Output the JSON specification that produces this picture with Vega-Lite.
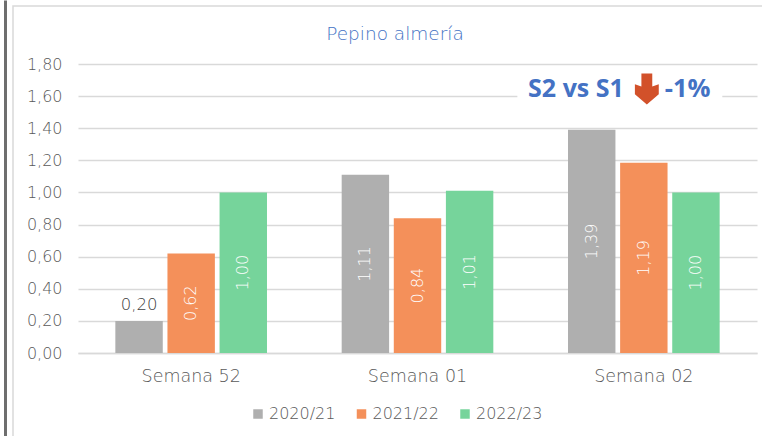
{
"$schema":"https://vega.github.io/schema/vega-lite/v6.json",
"autosize":{"type":"none"},
"padding":{"left":13,"top":6,"right":-1,"bottom":-1},
"width":750,"height":431,
"background":"white",
"view":{"stroke":"#d9d9d9","strokeWidth":1.5,"fill":"white"},
"config":{"font":"DejaVu Sans","text":{"font":"DejaVu Sans"}},
"title":{"text":"Pepino almería","fontSize":18.5,"fontWeight":200,"color":"#4472C4","font":"DejaVu Sans","anchor":"middle","offset":-46,"dx":7},
"datasets":{
"bars":[
{"week":"Semana 52","season":"2020/21","value":0.20,"label":"0,20"},
{"week":"Semana 52","season":"2021/22","value":0.62,"label":"0,62"},
{"week":"Semana 52","season":"2022/23","value":1.00,"label":"1,00"},
{"week":"Semana 01","season":"2020/21","value":1.11,"label":"1,11"},
{"week":"Semana 01","season":"2021/22","value":0.84,"label":"0,84"},
{"week":"Semana 01","season":"2022/23","value":1.01,"label":"1,01"},
{"week":"Semana 02","season":"2020/21","value":1.39,"label":"1,39"},
{"week":"Semana 02","season":"2021/22","value":1.185,"label":"1,19"},
{"week":"Semana 02","season":"2022/23","value":1.00,"label":"1,00"}],
"note":[{"week":"Semana 02","value":1.645,"a":"S2 vs S1","b":"-1%"}],
"edge":[{"e":0},{"e":1}]
},
"resolve":{"scale":{"y":"independent"},"axis":{"y":"independent"}},
"layer":[
{"data":{"name":"edge"},
 "mark":{"type":"point","opacity":0},
 "encoding":{"y":{"field":"e","type":"quantitative","scale":{"domain":[0,1],"range":[431,-6],"nice":false,"zero":false},
   "axis":{"orient":"left","offset":8,"title":null,"ticks":false,"labels":false,"grid":false,"domainColor":"#6e6e6e","domainWidth":3}}}},
{"encoding":{"x":{"field":"week","type":"nominal","sort":["Semana 52","Semana 01","Semana 02"],
   "scale":{"range":[65,744],"paddingInner":0.33,"paddingOuter":0.165},
   "axis":{"title":null,"orient":"bottom","offset":-84,"ticks":false,"labelAngle":0,"labelPadding":14,"labelFontSize":17.5,"labelFontWeight":200,"labelColor":"#595959","labelFont":"DejaVu Sans","domainColor":"#d9d9d9","domainWidth":1.5,"grid":false}}},
 "layer":[
 {"data":{"name":"bars"},"mark":{"type":"bar"},
  "encoding":{
   "xOffset":{"field":"season","type":"nominal","scale":{"paddingInner":0.09}},
   "y":{"field":"value","type":"quantitative","scale":{"domain":[0,1.8],"range":[347,58],"nice":false},
     "axis":{"title":null,"orient":"left","offset":-65,"values":[0,0.2,0.4,0.6,0.8,1,1.2,1.4,1.6,1.8],"grid":false,"domain":false,"tickSize":-679,"tickColor":"#d9d9d9","tickWidth":1.5,"labelPadding":695,"labelFontSize":16,"labelFontWeight":200,"labelColor":"#595959","labelFont":"DejaVu Sans","labelExpr":"replace(format(datum.value,'.2f'),'.',',')"}},
   "color":{"field":"season","type":"nominal","scale":{"domain":["2020/21","2021/22","2022/23"],"range":["#AFAFAF","#F4905A","#76D49B"]},
     "legend":{"title":null,"orient":"none","legendX":237,"legendY":400,"direction":"horizontal","symbolType":"square","symbolSize":90,"symbolOpacity":1,"labelFontSize":16,"labelFontWeight":200,"labelColor":"#595959","labelFont":"DejaVu Sans","columnPadding":17.5,"labelOffset":3}}
  }},
 {"data":{"name":"bars"},"transform":[{"filter":"datum.value>=0.5"},{"calculate":"datum.value/2","as":"mid"}],
  "mark":{"type":"text","angle":270,"color":"white","fontSize":16,"fontWeight":200,"align":"center","baseline":"middle"},
  "encoding":{"xOffset":{"field":"season","type":"nominal","scale":{"paddingInner":0.09}},"y":{"field":"mid","type":"quantitative"},"text":{"field":"label"}}},
 {"data":{"name":"bars"},"transform":[{"filter":"datum.value<0.5"}],
  "mark":{"type":"text","color":"#404040","fontSize":16.5,"fontWeight":200,"align":"center","baseline":"bottom","dy":-8},
  "encoding":{"xOffset":{"field":"season","type":"nominal","scale":{"paddingInner":0.09}},"y":{"field":"value","type":"quantitative"},"text":{"field":"label"}}},
 {"data":{"name":"note"},
  "mark":{"type":"point","filled":true,"fill":"white","opacity":1,"size":42000,"xOffset":-24,"yOffset":9,"shape":"M-1,-0.05L1,-0.05L1,0.05L-1,0.05Z"},
  "encoding":{"y":{"field":"value","type":"quantitative"}}},
 {"data":{"name":"note"},
  "mark":{"type":"text","font":"Open Sans","color":"#4472C4","fontSize":25,"fontWeight":"bold","align":"right","baseline":"middle","dx":-20},
  "encoding":{"y":{"field":"value","type":"quantitative"},"text":{"field":"a"}}},
 {"data":{"name":"note"},
  "mark":{"type":"text","font":"Open Sans","color":"#4472C4","fontSize":25.5,"fontWeight":"bold","align":"left","baseline":"middle","dx":21},
  "encoding":{"y":{"field":"value","type":"quantitative"},"text":{"field":"b"}}},
 {"data":{"name":"note"},
  "mark":{"type":"point","filled":true,"fill":"#D2512A","opacity":1,"size":961,"xOffset":3,"shape":"M-0.35,-1L0.35,-1L0.35,-0.15L0.77,-0.3L0.77,0.35L0,1L-0.77,0.35L-0.77,-0.3L-0.35,-0.15Z"},
  "encoding":{"y":{"field":"value","type":"quantitative"}}}
 ]}
]
}
